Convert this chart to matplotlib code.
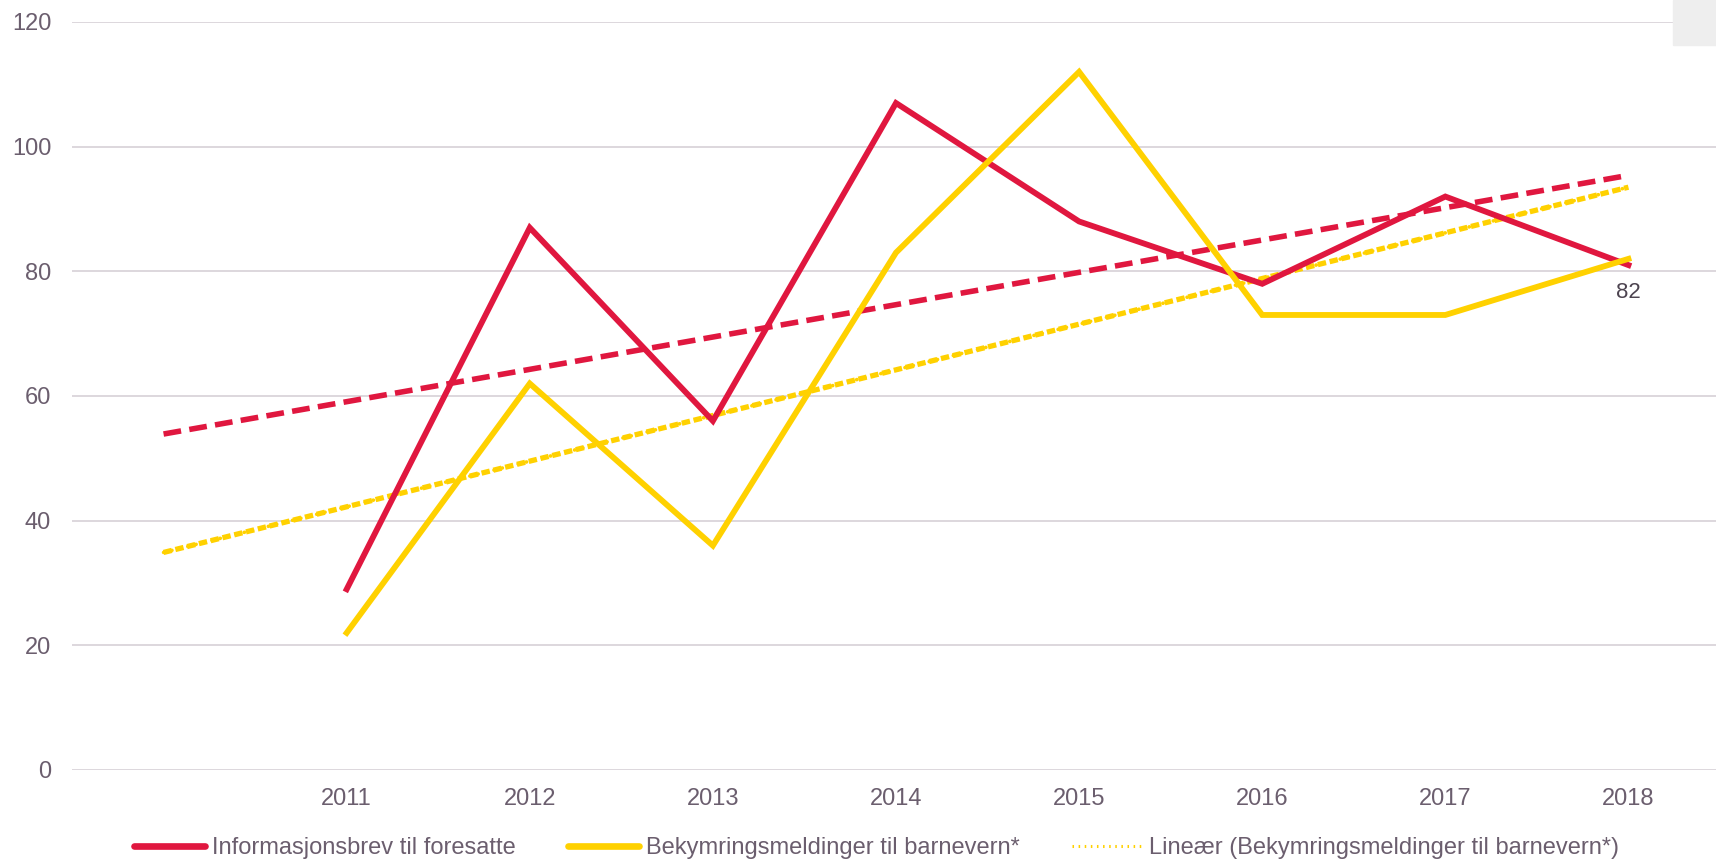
import matplotlib.pyplot as plt
from matplotlib.lines import Line2D
from matplotlib.patches import Rectangle

plt.rcParams['font.family'] = ['Liberation Sans', 'DejaVu Sans']

# data
categories = ['', '2011', '2012', '2013', '2014', '2015', '2016', '2017', '2018']
info_brev = [None, 29, 87, 56, 107, 88, 78, 92, 81]
bekymring = [None, 22, 62, 36, 83, 112, 73, 73, 82]
# linear trend lines, read at first and last category
trend_info = [53.9, 95.4]
trend_bek = [34.9, 93.5]
yticks = [0, 20, 40, 60, 80, 100, 120]

red = '#E0173F'
yellow = '#FFD100'
txt = '#6B5E6E'
grid = '#DDD7DD'

fig = plt.figure(figsize=(17.16, 8.64), dpi=100, facecolor='white')
ax = fig.add_axes([72 / 1716, 94 / 864, 1648 / 1716, 748 / 864])

x = list(range(len(categories)))
xs = x[1:]
ax.plot(xs, info_brev[1:], color=red, lw=4.2, solid_joinstyle='miter', zorder=3)
ax.plot(xs, bekymring[1:], color=yellow, lw=4.2, solid_joinstyle='miter', zorder=3)

tx = [x[0], x[-1]]
ax.plot(tx, trend_info, color=red, lw=4.0, ls=(0, (3.2, 1.5)), dash_capstyle='butt', zorder=2)
ax.plot(tx, trend_bek, color=yellow, lw=3.8, ls=(0, (1.6, 0.7)), dash_capstyle='butt', zorder=2)
ax.plot(tx, trend_bek, color=yellow, lw=2.6, ls=(0, (0.1, 2.2)), dash_capstyle='round', zorder=2)

ax.annotate(str(bekymring[-1]), (x[-1], bekymring[-1]), xytext=(0, -24), textcoords='offset points',
            ha='center', va='center', fontsize=16, color='#4D4450')

ax.set_xlim(-0.5, 8.5)
ax.set_ylim(0, 120)
ax.set_xticks(x)
ax.set_xticklabels(categories)
ax.set_yticks(yticks)
ax.tick_params(axis='both', length=0, labelsize=17, labelcolor=txt)
ax.tick_params(axis='y', pad=15)
ax.tick_params(axis='x', pad=13)
ax.grid(axis='y', color=grid, lw=1.4)
ax.set_axisbelow(True)
for s in ax.spines.values():
    s.set_visible(False)

fig.patches.append(Rectangle((1673 / 1716, 1 - 45 / 864), 43 / 1716, 45 / 864,
                             transform=fig.transFigure, color='#EEEEEE', zorder=0))

handles = [Line2D([], [], color=red, lw=4.8, solid_capstyle='round'),
           Line2D([], [], color=yellow, lw=4.8, solid_capstyle='round'),
           Line2D([], [], color=yellow, lw=2.2, ls=(0, (0.5, 1.5)))]
labels = ['Informasjonsbrev til foresatte', 'Bekymringsmeldinger til barnevern*',
          'Lineær (Bekymringsmeldinger til barnevern*)']
leg = fig.legend(handles, labels, loc='center', bbox_to_anchor=(0.511, 0.018), ncol=3,
                 frameon=False, fontsize=17, handlelength=3.0, handletextpad=0.3,
                 columnspacing=2.2)
for t in leg.get_texts():
    t.set_color(txt)

fig.savefig('out.png', dpi=100, facecolor='white')
